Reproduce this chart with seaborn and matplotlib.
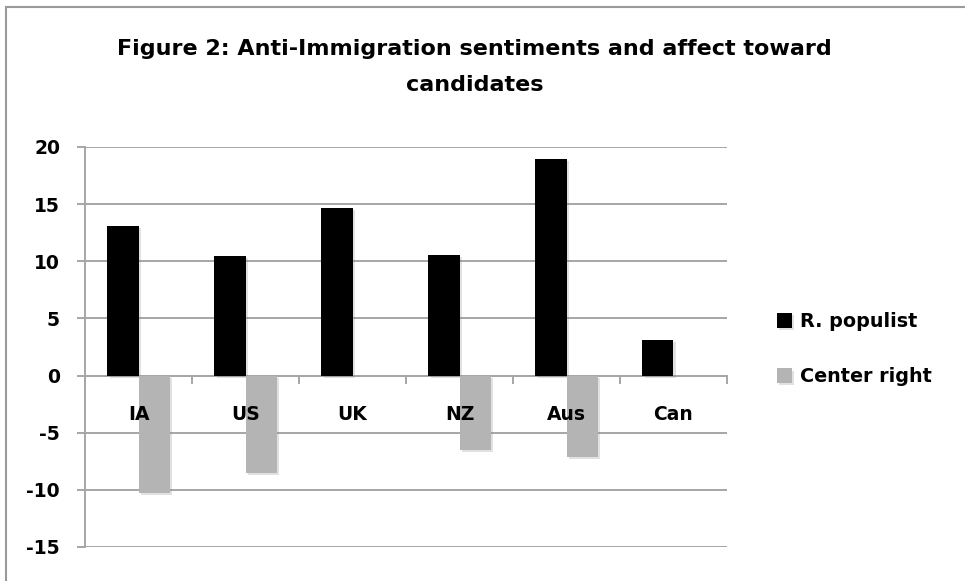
import matplotlib
matplotlib.use("Agg")
import matplotlib.pyplot as plt
import matplotlib.patheffects as pe
from matplotlib.patches import Rectangle
from matplotlib.ticker import FixedLocator
import seaborn as sns
import pandas as pd

countries = ["IA", "US", "UK", "NZ", "Aus", "Can"]
populist = [13.1, 10.45, 14.7, 10.55, 18.95, 3.1]
center_right = [-10.25, -8.55, 0.0, -6.5, -7.1, 0.0]
series_names = ["R. populist", "Center right"]
yticks = [-15, -10, -5, 0, 5, 10, 15, 20]
title = "Figure 2: Anti-Immigration sentiments and affect toward\ncandidates"

df = pd.DataFrame({
    "country": countries * 2,
    "value": populist + center_right,
    "series": [series_names[0]] * len(countries) + [series_names[1]] * len(countries),
})

sns.set_style("white")
plt.rcParams["font.family"] = ["DejaVu Sans"]
plt.rcParams["font.weight"] = "bold"
plt.rcParams["text.color"] = "black"
plt.rcParams["xtick.labelcolor"] = "black"
plt.rcParams["ytick.labelcolor"] = "black"

fig = plt.figure(figsize=(9.65, 5.81), dpi=100)
ax = fig.add_axes([85 / 965, 1 - 547 / 581, (727 - 85) / 965, (547 - 147) / 581])

sns.barplot(data=df, x="country", y="value", hue="series", order=countries,
            hue_order=series_names, palette=["#000000", "#b4b4b4"], width=0.58,
            saturation=1, ax=ax, legend=True)

for p in ax.patches:
    p.set_zorder(2)
    p.set_edgecolor("none")
    p.set_path_effects([pe.SimplePatchShadow(offset=(1.5, -1.5), shadow_rgbFace="#888888", alpha=0.25), pe.Normal()])

ax.set_ylim(-15, 20)
ax.set_xlim(-0.5, len(countries) - 0.5)
ax.set_yticks(yticks)
ax.set_yticklabels([str(v) for v in yticks])
ax.set_axisbelow(True)
ax.yaxis.grid(True, color="#a6a6a6", linewidth=1.4)
ax.xaxis.grid(False)

for s in ["top", "right"]:
    ax.spines[s].set_visible(False)
ax.spines["left"].set_color("#a6a6a6")
ax.spines["left"].set_linewidth(1.4)
ax.spines["bottom"].set_position(("data", 0))
ax.spines["bottom"].set_color("#a6a6a6")
ax.spines["bottom"].set_linewidth(1.4)
ax.spines["bottom"].set_zorder(1.5)

ax.tick_params(axis="y", length=6, width=1.4, color="#a6a6a6", pad=12,
               labelsize=13.5, labelcolor="black", left=True)
ax.xaxis.set_minor_locator(FixedLocator([i - 0.5 for i in range(len(countries) + 1)]))
ax.tick_params(axis="x", which="minor", length=6, width=1.4, color="#a6a6a6",
               direction="out", bottom=True)
ax.tick_params(axis="x", which="major", length=0, pad=21, labelsize=13.5,
               labelcolor="black")
ax.xaxis.set_zorder(5)
for lbl in ax.get_xticklabels() + ax.get_yticklabels():
    lbl.set_fontweight("bold")
ax.set_xlabel("")
ax.set_ylabel("")

leg = ax.legend(loc="upper left", bbox_to_anchor=(777 / 965, 1 - 312 / 581),
                bbox_transform=fig.transFigure, frameon=False,
                handlelength=0.8, handleheight=0.8, borderpad=0, borderaxespad=0,
                handletextpad=0.4, labelspacing=1.9, prop={"weight": "bold", "size": 13.8})
for t in leg.get_texts():
    t.set_color("black")

fig.text(0.492, 1 - 67 / 581, title, ha="center", va="center", fontsize=16,
         fontweight="bold", linespacing=2.0, color="black")

fig.patches.append(Rectangle((6 / 965, -0.1), 1.2, 1 - 7 / 581 + 0.1,
                             transform=fig.transFigure, fill=False,
                             edgecolor="#9a9a9a", linewidth=1.5, zorder=0))

fig.savefig("out.png", dpi=100)
